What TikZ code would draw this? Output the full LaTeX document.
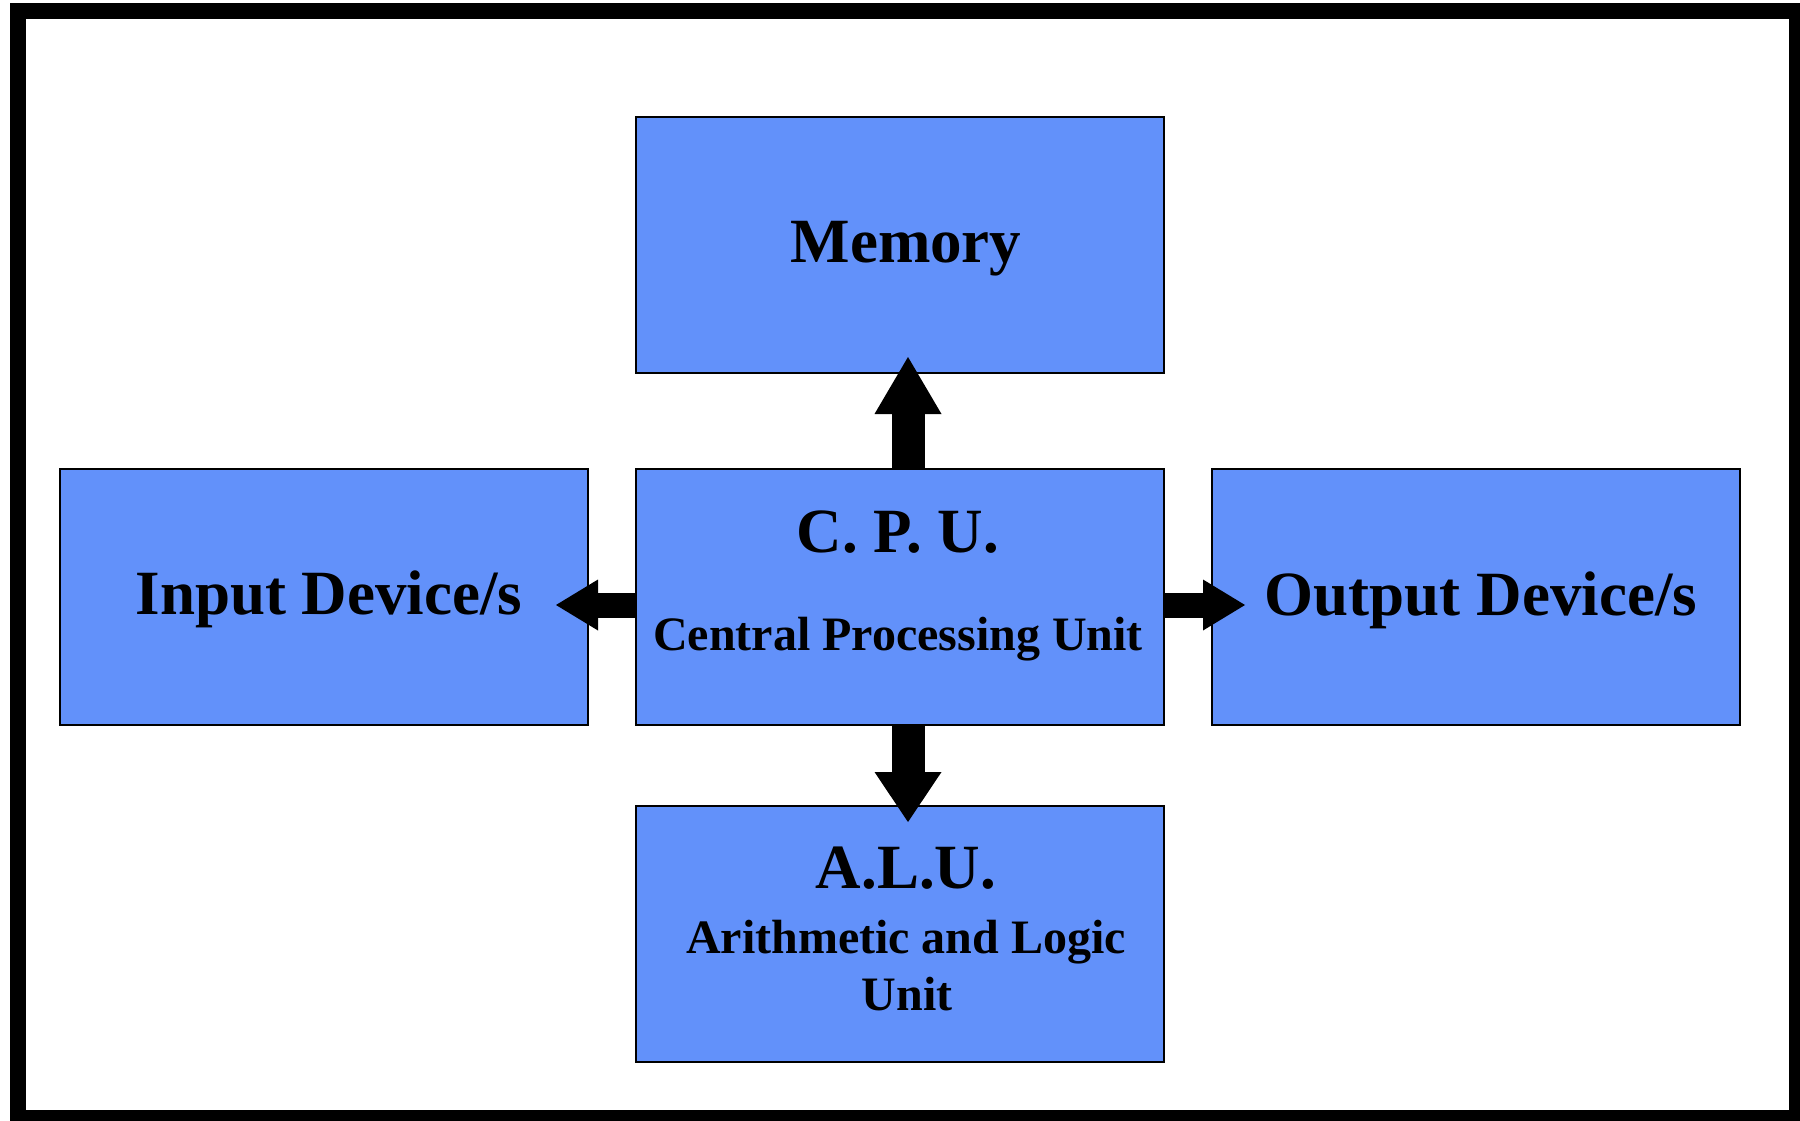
\documentclass[tikz,border=0pt]{standalone}
\usepackage{fontspec}
\setmainfont{Liberation Serif}
\usetikzlibrary{arrows.meta}
\definecolor{boxblue}{RGB}{98,145,250}
\begin{document}
\begin{tikzpicture}[x=1pt,y=-1pt,
  unitbox/.style={rectangle, draw=black, line width=2pt, fill=boxblue,
    minimum width=528pt, minimum height=256pt, inner sep=0pt, anchor=north west},
  bigtext/.style={anchor=base, inner sep=0pt, font=\bfseries\fontsize{63}{70}\selectfont},
  smalltext/.style={anchor=base, inner sep=0pt, font=\bfseries\fontsize{48}{56}\selectfont},
  hbar/.style={line width=25pt, -{Triangle[length=42pt,width=51pt,line width=0pt]}},
  vbarup/.style={line width=33pt, -{Triangle[length=57pt,width=67pt,line width=0pt]}},
  vbardown/.style={line width=33pt, -{Triangle[length=50pt,width=67pt,line width=0pt]}}]

  % page area and white background
  \clip (0,0) rectangle (1800,1121);
  \fill[white] (0,0) rectangle (1800,1121);

  % heavy outer frame
  \draw[line width=16pt] (18,11) rectangle (1797,1118);

  % unit boxes
  \node[unitbox] (memory) at (635,116) {};
  \node[unitbox] (cpu)    at (635,468) {};
  \node[unitbox] (input)  at (59,468)  {};
  \node[unitbox] (output) at (1211,468) {};
  \node[unitbox] (alu)    at (635,805) {};

  % labels
  \node[bigtext] (memtxt) at (906,262) {Memory};
  \node[bigtext] (intxt)  at (329,614) {Input Device/s};
  \node[bigtext] (outtxt) at (1481,615) {Output Device/s};
  \node[bigtext] (cputxt) at (898,552) {C. P. U.};
  \node[smalltext] (cpusub) at (898,650) {Central Processing Unit};
  \node[bigtext] (alutxt) at (906,888) {A.L.U.};
  \node[smalltext] (alusub1) at (906,953) {Arithmetic and Logic};
  \node[smalltext] (alusub2) at (907,1010) {Unit};

  % connectors from the CPU
  \draw[vbarup]   ([xshift=8pt]cpu.north) -- ([xshift=8pt,yshift=17pt]memory.south);
  \draw[vbardown] ([xshift=8pt]cpu.south) -- ([xshift=8pt,yshift=-17pt]alu.north);
  \draw[hbar] ([yshift=-8pt]cpu.west) -- ([xshift=-33pt,yshift=-8pt]input.east);
  \draw[hbar] ([yshift=-8pt]cpu.east) -- ([xshift=34pt,yshift=-8pt]output.west);
\end{tikzpicture}
\end{document}
